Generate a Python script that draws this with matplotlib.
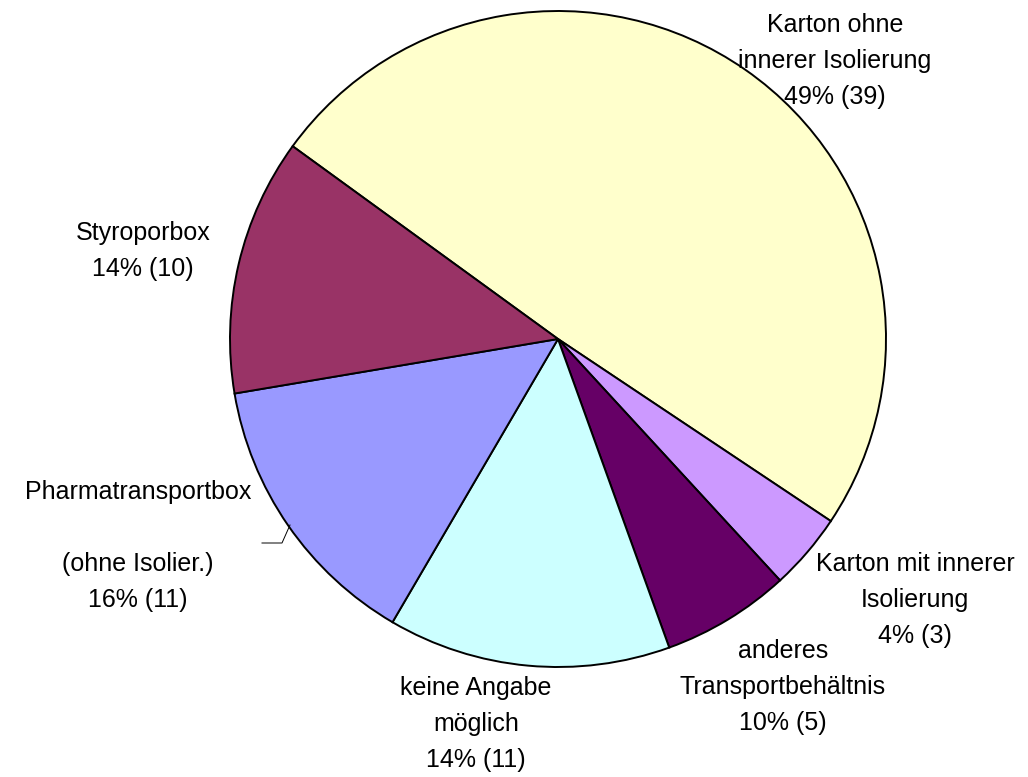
import matplotlib
matplotlib.use("Agg")
import matplotlib.pyplot as plt

categories = ["Karton ohne\ninnerer Isolierung", "Karton mit innerer\nIsolierung",
              "anderes\nTransportbehältnis", "keine Angabe\nmöglich",
              "Pharmatransportbox\n\n(ohne Isolier.)", "Styroporbox"]
counts = [39, 3, 5, 11, 11, 10]
pct_labels = ["49%", "4%", "10%", "14%", "16%", "14%"]
colors = ["#FFFFCC", "#CC99FF", "#660066", "#CCFFFF", "#9999FF", "#993366"]

W, H = 1028, 777
fig = plt.figure(figsize=(W / 100, H / 100), dpi=100)
ax = fig.add_axes([0, 0, 1, 1])

cx, cy, r = 558, H - 339, 328
ax.pie(counts, colors=colors, startangle=144, counterclock=False,
       center=(cx, cy), radius=r, frame=True,
       wedgeprops=dict(edgecolor="black", linewidth=1.4))
ax.set_xlim(0, W)
ax.set_ylim(0, H)
ax.set_aspect("equal")
ax.axis("off")

label_pos = [(835, 61), (915, 600), (783, 687), (476, 724), (138, 546), (143, 251)]
for cat, n, p, (x, y) in zip(categories, counts, pct_labels, label_pos):
    ax.text(x, H - y, f"{cat}\n{p} ({n})", ha="center", va="center",
            fontsize=18, family="Liberation Sans", linespacing=1.62)

# leader line for Pharmatransportbox
ax.plot([262, 282, 290], [H - 543, H - 543, H - 525], color="black", lw=0.7)

fig.savefig("out.png", dpi=100)
